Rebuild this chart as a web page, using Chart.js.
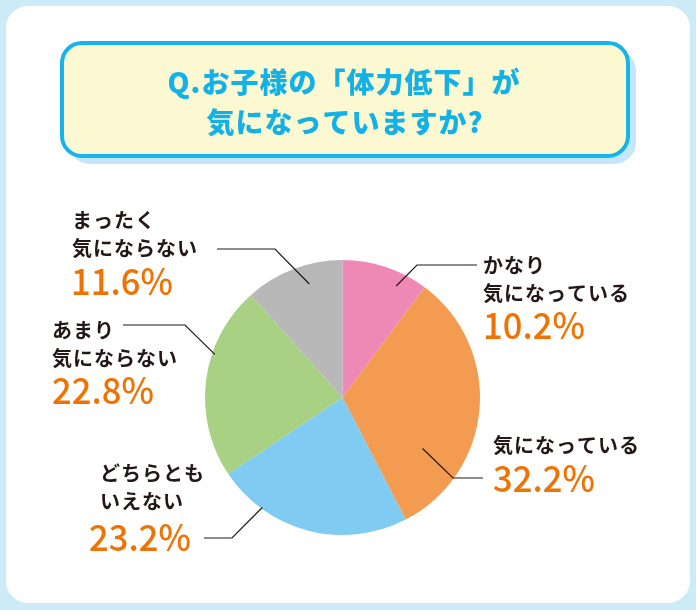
<!DOCTYPE html>
<html>
<head>
<meta charset="utf-8">
<script src="https://cdn.jsdelivr.net/npm/chart.js@4"></script>
<style>
  html, body { margin: 0; padding: 0; background: #fff; }
  #wrap { width: 696px; height: 610px; }
</style>
</head>
<body>
<div id="wrap"><canvas id="pieChart" width="696" height="610"></canvas></div>
<script>
const titleLines = ['Q.お子様の「体力低下」が', '気になっていますか?'];
const categories = ['かなり\n気になっている', '気になっている', 'どちらとも\nいえない', 'あまり\n気にならない', 'まったく\n気にならない'];
const values = [10.2, 32.2, 23.2, 22.8, 11.6];
const colors = ['#ee89b5', '#f39b51', '#7fcbf1', '#a9d184', '#b8b8b8'];

// label layout: text position, leader line elbow, and where in the slice the line ends
const labelLayout = [
    { x: 483, y: 265, px: 483, py: 325, line: [[477, 265], [417, 265]], t: 0.70, r: 0.90 },
    { x: 493, y: 445, px: 493, py: 478, line: [[483, 478], [453, 478]], t: 0.74, r: 0.69 },
    { x: 100, y: 473, px: 89, py: 537, line: [[204, 538], [232, 538]], t: 0.76, r: 0.99 },
    { x: 52, y: 330, px: 52, py: 390, line: [[123, 325], [185, 325]], t: 0.64, r: 0.98 },
    { x: 72, y: 220, px: 71, py: 281, line: [[217, 249], [275, 249]], t: 0.61, r: 0.86 },
];

function roundRect(ctx, x, y, w, h, r) {
    ctx.beginPath();
    ctx.moveTo(x + r, y);
    ctx.arcTo(x + w, y, x + w, y + h, r);
    ctx.arcTo(x + w, y + h, x, y + h, r);
    ctx.arcTo(x, y + h, x, y, r);
    ctx.arcTo(x, y, x + w, y, r);
    ctx.closePath();
}

const backdrop = {
    id: 'backdrop',
    beforeDraw(chart) {
        const ctx = chart.ctx;
        ctx.save();
        ctx.fillStyle = '#cdeaf7';
        ctx.fillRect(0, 0, 696, 610);
        ctx.fillStyle = '#ffffff';
        roundRect(ctx, 6, 6, 684, 597, 22);
        ctx.fill();

        // title box with shadow
        ctx.fillStyle = '#c5e6f8';
        roundRect(ctx, 68, 49, 568, 115, 22);
        ctx.fill();
        ctx.fillStyle = '#fcf9d2';
        ctx.strokeStyle = '#16b4ea';
        ctx.lineWidth = 4;
        roundRect(ctx, 62, 43, 566, 113, 20);
        ctx.fill();
        ctx.stroke();

        ctx.fillStyle = '#14b1e7';
        ctx.font = '900 28px "Noto Sans CJK JP"';
        ctx.letterSpacing = '1px';
        ctx.textAlign = 'center';
        ctx.textBaseline = 'middle';
        ctx.fillText(titleLines[0], 344, 82);
        ctx.fillText(titleLines[1], 345, 122);
        ctx.restore();
    }
};

const leaderLabels = {
    id: 'leaderLabels',
    afterDatasetsDraw(chart) {
        const ctx = chart.ctx;
        const meta = chart.getDatasetMeta(0);
        ctx.save();
        meta.data.forEach((arc, i) => {
            const lay = labelLayout[i];
            const a = arc.startAngle + lay.t * (arc.endAngle - arc.startAngle);
            const rr = arc.outerRadius * lay.r;
            const ex = arc.x + Math.cos(a) * rr;
            const ey = arc.y + Math.sin(a) * rr;

            ctx.strokeStyle = '#231815';
            ctx.lineWidth = 1.2;
            ctx.beginPath();
            ctx.moveTo(lay.line[0][0], lay.line[0][1]);
            ctx.lineTo(lay.line[1][0], lay.line[1][1]);
            ctx.lineTo(ex, ey);
            ctx.stroke();

            ctx.fillStyle = '#231815';
            ctx.font = '600 20px "Noto Sans CJK JP"';
            ctx.letterSpacing = '1px';
            ctx.textAlign = 'left';
            ctx.textBaseline = 'middle';
            categories[i].split('\n').forEach((s, k) => {
                ctx.fillText(s, lay.x, lay.y + k * 28.5);
            });

            // percentages are a bit condensed in the original
            ctx.fillStyle = '#ef7304';
            ctx.font = '500 36px "Noto Sans CJK JP"';
            ctx.letterSpacing = '0px';
            ctx.save();
            ctx.translate(lay.px, lay.py);
            ctx.scale(0.96, 1);
            ctx.fillText(values[i].toFixed(1) + '%', 0, 0);
            ctx.restore();
        });
        ctx.restore();
    }
};

const config = {
    type: 'pie',
    data: {
        labels: categories,
        datasets: [{
            data: values,
            backgroundColor: colors,
            borderWidth: 0,
        }]
    },
    options: {
        responsive: false,
        animation: false,
        layout: {
            padding: { top: 260, bottom: 75, left: 205, right: 216 }
        },
        plugins: {
            legend: { display: false },
            tooltip: { enabled: false },
        },
    },
    plugins: [backdrop, leaderLabels]
};

const pieChart = new Chart(document.getElementById('pieChart'), config);
</script>
</body>
</html>
